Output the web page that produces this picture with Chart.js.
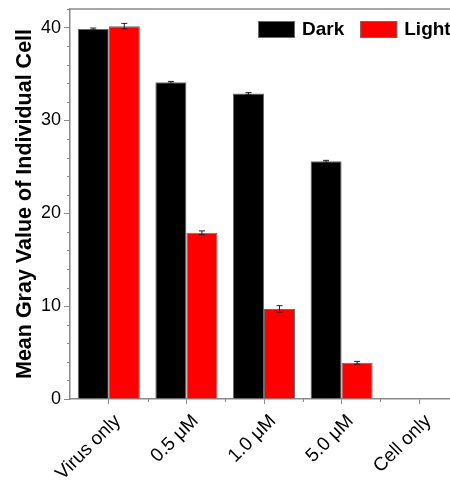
<!DOCTYPE html>
<html>
<head>
<meta charset="utf-8">
<script src="https://cdn.jsdelivr.net/npm/chart.js@4"></script>
<style>
  html, body { margin: 0; padding: 0; background: #fff; overflow: hidden; }
</style>
</head>
<body>
<!-- a bit wider than the window: the plot runs past the right edge of the picture -->
<canvas id="cells" width="470" height="480"></canvas>
<script>
// data
const groups = ['Virus only', '0.5 \u03bcM', '1.0 \u03bcM', '5.0 \u03bcM', 'Cell only'];
const darkValues = [39.85, 34.1, 32.9, 25.6, 0];
const darkErrors = [0.1, 0.1, 0.1, 0.1, 0];
const lightValues = [40.15, 17.9, 9.7, 3.9, 0];
const lightErrors = [0.3, 0.2, 0.35, 0.15, 0];
const yTicks = [0, 10, 20, 30, 40];
const yMinorTicks = [2, 4, 6, 8, 12, 14, 16, 18, 22, 24, 26, 28, 32, 34, 36, 38, 42];

const axisGray = '#8a8a8a';
const fontFamily = 'Liberation Sans, Arial, sans-serif';
const cells = document.getElementById('cells');

// error bars drawn on top of each bar
const errorBars = {
    id: 'errorBars',
    afterDatasetsDraw(chart) {
        const ctx = chart.ctx;
        const y = chart.scales.y;
        chart.data.datasets.forEach((ds, i) => {
            const meta = chart.getDatasetMeta(i);
            meta.data.forEach((bar, j) => {
                const err = ds.errors[j];
                if (!err) return;
                const v = ds.data[j];
                const top = y.getPixelForValue(v + err);
                const bot = y.getPixelForValue(v - err);
                ctx.save();
                ctx.strokeStyle = '#222';
                ctx.lineWidth = 1;
                ctx.beginPath();
                ctx.moveTo(bar.x, top);
                ctx.lineTo(bar.x, bot);
                ctx.moveTo(bar.x - 3, top);
                ctx.lineTo(bar.x + 3, top);
                ctx.moveTo(bar.x - 3, bot);
                ctx.lineTo(bar.x + 3, bot);
                ctx.stroke();
                ctx.restore();
            });
        });
    }
};

// top frame line and the small ticks between the labelled ones
const frameAndMinor = {
    id: 'frameAndMinor',
    afterDraw(chart) {
        const ctx = chart.ctx;
        const area = chart.chartArea;
        const x = chart.scales.x;
        const y = chart.scales.y;
        ctx.save();
        ctx.strokeStyle = axisGray;
        ctx.lineWidth = 1.5;
        ctx.beginPath();
        ctx.moveTo(area.left, area.top);
        ctx.lineTo(area.right, area.top);
        ctx.stroke();
        ctx.lineWidth = 1;
        ctx.beginPath();
        yMinorTicks.forEach(v => {
            const py = Math.round(y.getPixelForValue(v)) + 0.5;
            ctx.moveTo(area.left - 3, py);
            ctx.lineTo(area.left, py);
        });
        for (let i = 0; i < groups.length; i++) {
            const px = Math.round(x.getPixelForValue(i + 0.5)) + 0.5;
            ctx.moveTo(px, area.bottom);
            ctx.lineTo(px, area.bottom + 3);
        }
        ctx.stroke();
        ctx.restore();
    }
};

// legend in the top right corner of the plot
const cornerLegend = {
    id: 'cornerLegend',
    afterDraw(chart) {
        const ctx = chart.ctx;
        ctx.save();
        ctx.font = 'bold 19px ' + fontFamily;
        ctx.textBaseline = 'middle';
        let left = 258;
        const top = 21;
        chart.data.datasets.forEach(ds => {
            ctx.fillStyle = ds.backgroundColor;
            ctx.fillRect(left, top, 37, 17);
            ctx.strokeStyle = '#6a6a6a';
            ctx.lineWidth = 1;
            ctx.strokeRect(left + 0.5, top + 0.5, 36, 16);
            ctx.fillStyle = '#000';
            ctx.fillText(ds.label, left + 44, top + 9);
            left += 44 + ctx.measureText(ds.label).width + 16;
        });
        ctx.restore();
    }
};

new Chart(cells, {
    type: 'bar',
    data: {
        labels: groups,
        datasets: [{
            label: 'Dark',
            data: darkValues,
            errors: darkErrors,
            backgroundColor: '#000000',
            borderColor: '#6a6a6a',
            borderWidth: 1
        }, {
            label: 'Light',
            data: lightValues,
            errors: lightErrors,
            backgroundColor: '#ff0000',
            borderColor: '#6a6a6a',
            borderWidth: 1
        }]
    },
    options: {
        responsive: false,
        animation: false,
        layout: { padding: { top: 9, right: 12, left: 0, bottom: 0 } },
        datasets: {
            bar: { barPercentage: 1, categoryPercentage: 0.8 }
        },
        plugins: {
            legend: { display: false },
            tooltip: { enabled: false }
        },
        scales: {
            x: {
                grid: { display: true, drawOnChartArea: false, offset: false, tickLength: 5, tickColor: axisGray },
                border: { color: axisGray, width: 1.5 },
                ticks: {
                    color: '#000',
                    maxRotation: 45,
                    minRotation: 45,
                    padding: 6,
                    labelOffset: 9,
                    font: { family: fontFamily, size: 19 }
                },
                afterFit: scale => {
                    scale.height = 81;
                    scale.paddingLeft = 0;
                    scale.paddingRight = 0;
                }
            },
            y: {
                min: 0,
                max: 42,
                afterBuildTicks: scale => { scale.ticks = yTicks.map(v => ({ value: v })); },
                grid: { display: true, drawOnChartArea: false, tickLength: 6, tickColor: axisGray },
                border: { color: axisGray, width: 1.5 },
                ticks: {
                    color: '#000',
                    padding: 3,
                    font: { family: fontFamily, size: 18 }
                },
                title: {
                    display: true,
                    text: 'Mean Gray Value of Individual Cell',
                    color: '#000',
                    padding: { top: 12, bottom: 0 },
                    font: { family: fontFamily, size: 21.5, weight: 'bold' }
                },
                afterFit: scale => {
                    scale.width = 70;
                    scale.paddingTop = 0;
                    scale.paddingBottom = 0;
                }
            }
        }
    },
    plugins: [errorBars, frameAndMinor, cornerLegend]
});
</script>
</body>
</html>
